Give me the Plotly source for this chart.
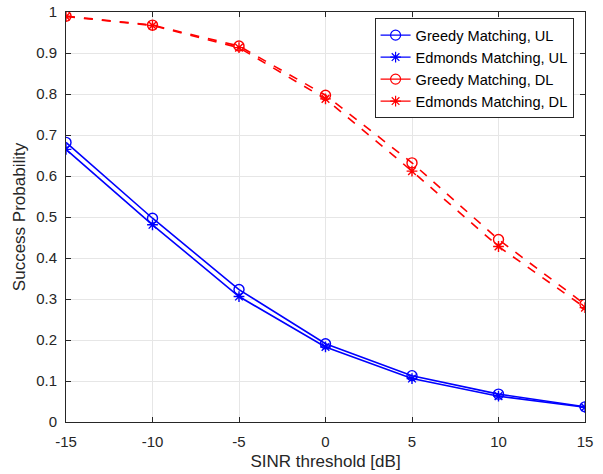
import plotly.graph_objects as go

sinr_db = [-15, -10, -5, 0, 5, 10, 15]
greedy_ul = [0.682, 0.497, 0.323, 0.191, 0.113, 0.068, 0.037]
edmonds_ul = [0.665, 0.481, 0.306, 0.183, 0.106, 0.063, 0.036]
greedy_dl = [0.990, 0.968, 0.917, 0.797, 0.632, 0.445, 0.287]
edmonds_dl = [0.989, 0.967, 0.913, 0.788, 0.612, 0.428, 0.279]

x_ticks = [-15, -10, -5, 0, 5, 10, 15]
y_ticks = [0, 0.1, 0.2, 0.3, 0.4, 0.5, 0.6, 0.7, 0.8, 0.9, 1]
y_ticklabels = ["0", "0.1", "0.2", "0.3", "0.4", "0.5", "0.6", "0.7", "0.8", "0.9", "1"]

BLUE = "#0000ff"
RED = "#ff0000"
FONT = "Liberation Sans, Arial, sans-serif"

series = [
    ("Greedy Matching, UL", greedy_ul, BLUE, "circle-open", "solid", 10),
    ("Edmonds Matching, UL", edmonds_ul, BLUE, "asterisk-open", "solid", 9),
    ("Greedy Matching, DL", greedy_dl, RED, "circle-open", "dash", 10),
    ("Edmonds Matching, DL", edmonds_dl, RED, "asterisk-open", "dash", 9),
]

fig = go.Figure()
for name, ys, color, sym, dash, msize in series:
    fig.add_trace(go.Scatter(
        x=sinr_db, y=ys, mode="lines+markers", name=name, showlegend=False,
        line=dict(color=color, width=1.6, dash=dash),
        marker=dict(symbol=sym, size=msize, color=color, line=dict(color=color, width=1.4)),
    ))
# legend entries (solid sample lines as in the reference)
for name, ys, color, sym, dash, msize in series:
    fig.add_trace(go.Scatter(
        x=[None], y=[None], mode="lines+markers", name=name, showlegend=True,
        line=dict(color=color, width=1.2),
        marker=dict(symbol=sym, size=msize, color=color, line=dict(color=color, width=1.2)),
    ))

axis_common = dict(
    showline=True, linecolor="#262626", linewidth=1, mirror="allticks",
    ticks="inside", ticklen=5, tickcolor="#262626",
    showgrid=True, gridcolor="#e6e6e6", gridwidth=1, zeroline=False,
    automargin=False,
    tickfont=dict(family=FONT, size=15, color="#262626"),
)

fig.update_layout(
    template="none",
    width=603, height=474,
    margin=dict(l=66, r=18, t=12, b=52),
    paper_bgcolor="white", plot_bgcolor="white",
    font=dict(family=FONT, color="#262626"),
    xaxis=dict(range=[-15, 15], tickvals=x_ticks, ticktext=[str(v) for v in x_ticks],
               ticklabelstandoff=6,
               title=dict(text="SINR threshold [dB]", font=dict(size=17, color="#262626"), standoff=6),
               **axis_common),
    yaxis=dict(range=[0, 1], tickvals=y_ticks, ticktext=y_ticklabels,
               ticklabelstandoff=5,
               title=dict(text="Success Probability", font=dict(size=17, color="#262626"), standoff=6),
               **axis_common),
    legend=dict(
        x=0.978, y=0.985, xanchor="right", yanchor="top",
        bgcolor="white", bordercolor="#262626", borderwidth=1,
        font=dict(size=14.6, color="#000000"),
        tracegroupgap=0, itemwidth=30,
    ),
)

fig.write_html("out.html", config={"displayModeBar": False},
               post_script="document.body.style.margin='0';")
